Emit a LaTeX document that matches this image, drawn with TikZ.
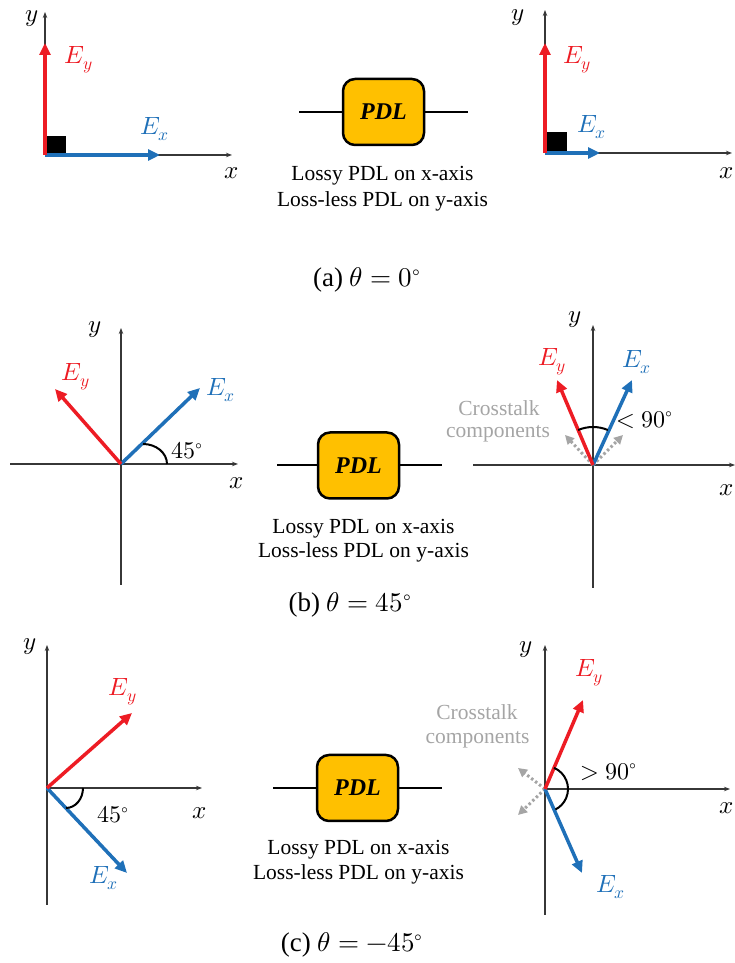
\documentclass[tikz,border=0pt]{standalone}
\usepackage{fontspec}
\setmainfont{Liberation Serif}
\usepackage{unicode-math}
\setmathfont{Latin Modern Math}
\usetikzlibrary{arrows.meta}
\definecolor{vred}{RGB}{237,28,36}
\definecolor{vblue}{RGB}{31,112,184}
\definecolor{axisgray}{RGB}{55,55,55}
\definecolor{xtgray}{RGB}{165,165,165}
\definecolor{pdlfill}{RGB}{255,192,0}
\tikzset{
  axisline/.style={draw=axisgray, line width=1.2pt, -{Stealth[length=6pt,width=4.5pt]}},
  vecred/.style={draw=vred, line width=3.5pt, -{Triangle[length=12pt,width=11pt]}},
  vecblue/.style={draw=vblue, line width=3.5pt, -{Triangle[length=12pt,width=11pt]}},
  xtalk/.style={draw=xtgray, line width=3pt, dash pattern=on 2.5pt off 2.5pt, -{Triangle[length=9pt,width=9pt]}},
  lab/.style={font=\fontsize{25}{30}\selectfont, inner sep=0pt},
  anglab/.style={font=\fontsize{24}{29}\selectfont, inner sep=0pt},
  redlab/.style={lab, text=vred},
  bluelab/.style={lab, text=vblue},
  graylab/.style={font=\fontsize{21.5}{26}\selectfont, inner sep=0pt, text=xtgray},
  txt/.style={font=\fontsize{21.5}{26}\selectfont, inner sep=0pt, anchor=base},
  captxt/.style={font=\fontsize{27}{32}\selectfont, inner sep=0pt, anchor=base},
  pdlbox/.style={draw=black, line width=2.5pt, fill=pdlfill, rounded corners=12pt,
    minimum width=81pt, minimum height=66pt, inner sep=0pt,
    font=\fontsize{24}{28}\selectfont\bfseries\itshape},
  wire/.style={draw=black, line width=2pt},
  angarc/.style={draw=black, line width=2pt},
}
\begin{document}
\begin{tikzpicture}[x=1pt,y=1pt]
\useasboundingbox (0,0) rectangle (735,963);

% ---------------- Panel (a) left
\begin{scope}[shift={(45,808)}]
  \coordinate (aLo) at (0,0);
  \coordinate (aLxe) at (187,0);
  \coordinate (aLye) at (0,143);
  \coordinate (aLex) at (115,0);
  \coordinate (aLey) at (0,112);
  \draw[axisline] (aLo) -- (aLxe);
  \draw[axisline] (aLo) -- (aLye);
  \draw[vecblue] (aLo) -- (aLex);
  \draw[vecred] (aLo) -- (aLey);
  \fill[black] (1.5,1.5) rectangle (21,19);
  \node[lab] (aLyl) at (-13,136) {$y$};
  \node[redlab] (aLeyl) at (34,95) {$E_y$};
  \node[bluelab] (aLexl) at (110,26) {$E_x$};
  \node[lab] (aLxl) at (187,-18) {$x$};
\end{scope}

% ---------------- Panel (a) right
\begin{scope}[shift={(545,810)}]
  \coordinate (aRo) at (0,0);
  \coordinate (aRxe) at (187,0);
  \coordinate (aRye) at (0,143);
  \coordinate (aRex) at (55,0);
  \coordinate (aRey) at (0,110);
  \draw[axisline] (aRo) -- (aRxe);
  \draw[axisline] (aRo) -- (aRye);
  \draw[vecblue] (aRo) -- (aRex);
  \draw[vecred] (aRo) -- (aRey);
  \fill[black] (2,2) rectangle (22,21);
  \node[lab] (aRyl) at (-27,135) {$y$};
  \node[redlab] (aReyl) at (32,93) {$E_y$};
  \node[bluelab] (aRexl) at (47,26) {$E_x$};
  \node[lab] (aRxl) at (182,-20) {$x$};
\end{scope}

% ---------------- PDL (a)
\node[pdlbox] (pdlA) at (383.5,851) {PDL};
\coordinate (pdlAl) at (299,851);
\coordinate (pdlAr) at (468,851);
\draw[wire] (pdlAl) -- (pdlA.west);
\draw[wire] (pdlA.east) -- (pdlAr);
\node[txt] (tA1) at (382.5,782) {Lossy PDL on x-axis};
\node[txt] (tA2) at (382.5,756) {Loss-less PDL on y-axis};
\node[captxt] (capA) at (367,676) {(a) $\theta = 0^{\circ}$};

% ---------------- Panel (b) left
\begin{scope}[shift={(121,499)}]
  \coordinate (bLo) at (0,0);
  \coordinate (bLxs) at (-111,0);
  \coordinate (bLxe) at (117,0);
  \coordinate (bLys) at (0,-121);
  \coordinate (bLye) at (0,136);
  \coordinate (bLex) at (79,76);
  \coordinate (bLey) at (-66,75);
  \draw[axisline] (bLxs) -- (bLxe);
  \draw[axisline] (bLys) -- (bLye);
  \draw[vecblue] (bLo) -- (bLex);
  \draw[vecred] (bLo) -- (bLey);
  \draw[angarc] (46,0) arc[start angle=0, end angle=90, x radius=24, y radius=20];
  \node[anglab] (bLang) at (66,13) {$45^{\circ}$};
  \node[lab] (bLyl) at (-26,134) {$y$};
  \node[redlab] (bLeyl) at (-45,87) {$E_y$};
  \node[bluelab] (bLexl) at (100,74) {$E_x$};
  \node[lab] (bLxl) at (116,-19) {$x$};
\end{scope}

% ---------------- PDL (b)
\node[pdlbox] (pdlB) at (358.5,497.5) {PDL};
\coordinate (pdlBl) at (277,497.5);
\coordinate (pdlBr) at (442,497.5);
\draw[wire] (pdlBl) -- (pdlB.west);
\draw[wire] (pdlB.east) -- (pdlBr);
\node[txt] (tB1) at (363.5,429) {Lossy PDL on x-axis};
\node[txt] (tB2) at (363.5,405) {Loss-less PDL on y-axis};
\node[captxt] (capB) at (350,351) {(b) $\theta = 45^{\circ}$};

% ---------------- Panel (b) right
\begin{scope}[shift={(593,498)}]
  \coordinate (bRo) at (0,0);
  \coordinate (bRxs) at (-120,0);
  \coordinate (bRxe) at (142,0);
  \coordinate (bRys) at (0,-123);
  \coordinate (bRye) at (0,140);
  \coordinate (bRex) at (39,85);
  \coordinate (bRey) at (-36,85);
  \coordinate (bRc1) at (-28,30);
  \coordinate (bRc2) at (30,30);
  \draw[axisline] (bRxs) -- (bRxe);
  \draw[axisline] (bRys) -- (bRye);
  \draw[xtalk] (bRo) -- (bRc1);
  \draw[xtalk] (bRo) -- (bRc2);
  \draw[vecblue] (bRo) -- (bRex);
  \draw[vecred] (bRo) -- (bRey);
  \draw[angarc] (67:38) arc[start angle=67, end angle=113, radius=38];
  \node[anglab] (bRang) at (52,45) {$<90^{\circ}$};
  \node[graylab] (bRct1) at (-94,57) {Crosstalk};
  \node[graylab] (bRct2) at (-95,31) {components};
  \node[lab] (bRyl) at (-18,145) {$y$};
  \node[redlab] (bReyl) at (-41,103) {$E_y$};
  \node[bluelab] (bRexl) at (44,103) {$E_x$};
  \node[lab] (bRxl) at (134,-25) {$x$};
\end{scope}

% ---------------- Panel (c) left
\begin{scope}[shift={(47,175)}]
  \coordinate (cLo) at (0,0);
  \coordinate (cLxe) at (155,0);
  \coordinate (cLys) at (0,-117);
  \coordinate (cLye) at (0,143);
  \coordinate (cLex) at (80,-85);
  \coordinate (cLey) at (85,75);
  \draw[axisline] (cLo) -- (cLxe);
  \draw[axisline] (cLys) -- (cLye);
  \draw[vecblue] (cLo) -- (cLex);
  \draw[vecred] (cLo) -- (cLey);
  \draw[angarc] (36,0) arc[start angle=0, end angle=-90, x radius=17, y radius=20];
  \node[anglab] (cLang) at (66,-27) {$45^{\circ}$};
  \node[lab] (cLyl) at (-17,141) {$y$};
  \node[redlab] (cLeyl) at (76,96) {$E_y$};
  \node[bluelab] (cLexl) at (57,-90) {$E_x$};
  \node[lab] (cLxl) at (153,-25) {$x$};
\end{scope}

% ---------------- PDL (c)
\node[pdlbox] (pdlC) at (357.5,175) {PDL};
\coordinate (pdlCl) at (273,175);
\coordinate (pdlCr) at (442,175);
\draw[wire] (pdlCl) -- (pdlC.west);
\draw[wire] (pdlC.east) -- (pdlCr);
\node[txt] (tC1) at (358.5,108) {Lossy PDL on x-axis};
\node[txt] (tC2) at (358.5,83) {Loss-less PDL on y-axis};
\node[captxt] (capC) at (352,11) {(c) $\theta = -45^{\circ}$};

% ---------------- Panel (c) right
\begin{scope}[shift={(545,174)}]
  \coordinate (cRo) at (0,0);
  \coordinate (cRxe) at (185,0);
  \coordinate (cRys) at (0,-126);
  \coordinate (cRye) at (0,144);
  \coordinate (cRex) at (37,-84);
  \coordinate (cRey) at (38,89);
  \coordinate (cRc1) at (-27,21);
  \coordinate (cRc2) at (-27,-26);
  \draw[axisline] (cRo) -- (cRxe);
  \draw[axisline] (cRys) -- (cRye);
  \draw[xtalk] (cRo) -- (cRc1);
  \draw[xtalk] (cRo) -- (cRc2);
  \draw[vecblue] (cRo) -- (cRex);
  \draw[vecred] (cRo) -- (cRey);
  \draw[angarc] (67:23) arc[start angle=67, end angle=-63, radius=23];
  \node[anglab] (cRang) at (64,17) {$>90^{\circ}$};
  \node[graylab] (cRct1) at (-68,77) {Crosstalk};
  \node[graylab] (cRct2) at (-67.5,49) {components};
  \node[lab] (cRyl) at (-19,139) {$y$};
  \node[redlab] (cReyl) at (44,116) {$E_y$};
  \node[bluelab] (cRexl) at (66,-98) {$E_x$};
  \node[lab] (cRxl) at (182,-19) {$x$};
\end{scope}
\end{tikzpicture}
\end{document}
